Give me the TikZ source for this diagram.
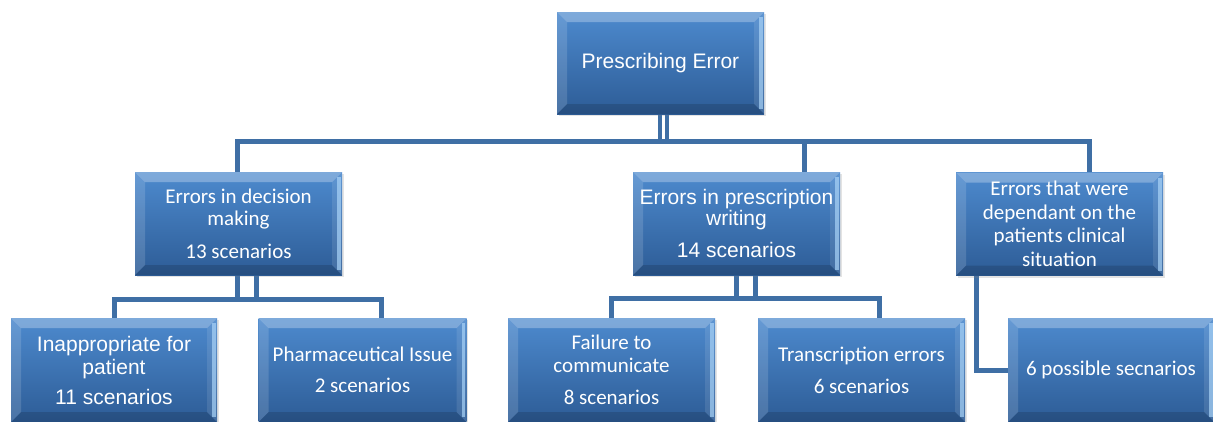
\documentclass[tikz,border=0pt]{standalone}
\usepackage{fontspec}
\newfontfamily\carlito{Carlito}
\newfontfamily\arialf{Liberation Sans}
\usetikzlibrary{calc,shadows,backgrounds}
\definecolor{boxtop}{HTML}{4D8ACE}
\definecolor{boxbot}{HTML}{2D5C96}
\definecolor{linec}{HTML}{3F6FA5}
\definecolor{edgehi}{HTML}{A9D3F7}
\tikzset{
  bevelbox/.style={rectangle, inner sep=0pt, minimum width=207pt, minimum height=103pt,
    top color=boxtop, bottom color=boxbot, text=white, align=center,
    drop shadow={opacity=0.22, shadow xshift=1.5pt, shadow yshift=-2pt},
    path picture={
      \fill[white,opacity=0.28] (path picture bounding box.north west) -- (path picture bounding box.north east)
        -- ([xshift=-10pt,yshift=-10pt]path picture bounding box.north east) -- ([xshift=10pt,yshift=-10pt]path picture bounding box.north west) -- cycle;
      \fill[white,opacity=0.14] (path picture bounding box.north west) -- ([xshift=10pt,yshift=-10pt]path picture bounding box.north west)
        -- ([xshift=10pt,yshift=10pt]path picture bounding box.south west) -- (path picture bounding box.south west) -- cycle;
      \fill[white,opacity=0.10] (path picture bounding box.north east) -- ([xshift=-10pt,yshift=-10pt]path picture bounding box.north east)
        -- ([xshift=-10pt,yshift=10pt]path picture bounding box.south east) -- (path picture bounding box.south east) -- cycle;
      \fill[edgehi,opacity=0.7] ([xshift=-5pt,yshift=-5pt]path picture bounding box.north east) rectangle ([xshift=-1.5pt,yshift=5pt]path picture bounding box.south east);
      \fill[black,opacity=0.14] (path picture bounding box.south west) -- ([xshift=10pt,yshift=10pt]path picture bounding box.south west)
        -- ([xshift=-10pt,yshift=10pt]path picture bounding box.south east) -- (path picture bounding box.south east) -- cycle;
    }},
  conn/.style={draw=linec, line width=5pt, line join=miter},
  connthin/.style={draw=linec, line width=4pt},
  calfont/.style={font=\carlito\fontsize{21}{22}\selectfont},
  arfont/.style={font=\arialf\fontsize{21}{21}\selectfont},
}
\begin{document}
\begin{tikzpicture}[x=1pt,y=-1pt]
\useasboundingbox (0,0) rectangle (1213,421);
% level 1
\node[bevelbox, minimum height=102pt, arfont] (root) at (660.5,63) {Prescribing Error};
% level 2
\node[bevelbox, calfont] (A) at (238.5,223.5) {Errors in decision\\making\\[11pt]13 scenarios};
\node[bevelbox, arfont] (B) at (736.5,223.5) {Errors in prescription\\writing\\[11pt]14 scenarios};
\node[bevelbox, font=\carlito\fontsize{21}{23.5}\selectfont] (C) at (1059.5,224) {Errors that were\\dependant on the\\patients clinical\\situation};
% level 3
\node[bevelbox, minimum width=206pt, minimum height=104pt, font=\arialf\fontsize{21}{23}\selectfont] (inap) at (114,370) {Inappropriate for\\patient\\[7pt]11 scenarios};
\node[bevelbox, minimum width=208pt, minimum height=104pt, font=\carlito\fontsize{21}{23}\selectfont] (pharma) at (362.5,370) {Pharmaceutical Issue\\[8pt]2 scenarios};
\node[bevelbox, minimum height=104pt, font=\carlito\fontsize{21}{23}\selectfont] (fail) at (611.5,370) {Failure to\\communicate\\[9pt]8 scenarios};
\node[bevelbox, minimum height=104pt, font=\carlito\fontsize{21}{23}\selectfont] (trans) at (861.5,370) {Transcription errors\\[9pt]6 scenarios};
\node[bevelbox, minimum width=206pt, minimum height=104pt, calfont] (six) at (1111,370) {6 possible secnarios};
% connectors
\begin{pgfonlayer}{background}
\draw[connthin] ($(root.south)+(-1,0)$) -- ++(0,28);
\draw[connthin] ($(root.south)+(6,0)$) -- ++(0,28);
\draw[conn] ($(A.north)+(-1,0)$) |- ($(C.north)+(29.5,-31)$) -- ($(C.north)+(29.5,0)$);
\draw[conn] ($(B.north)+(67.5,0)$) -- ++(0,-31);
% group A
\draw[conn] ($(A.south)+(-1,0)$) -- ++(0,25);
\draw[conn] ($(A.south)+(18,0)$) -- ++(0,25);
\draw[conn] (inap.north) |- ($(pharma.north)+(18.5,-18)$) -- ($(pharma.north)+(18.5,0)$);
% group B
\draw[conn] ($(B.south)+(0,0)$) -- ++(0,25);
\draw[conn] ($(B.south)+(18.5,0)$) -- ++(0,25);
\draw[conn] (fail.north) |- ($(trans.north)+(17.5,-19)$) -- ($(trans.north)+(17.5,0)$);
% group C
\draw[conn] ($(C.south)+(-83,0)$) |- (six.west);
\end{pgfonlayer}
\end{tikzpicture}
\end{document}
